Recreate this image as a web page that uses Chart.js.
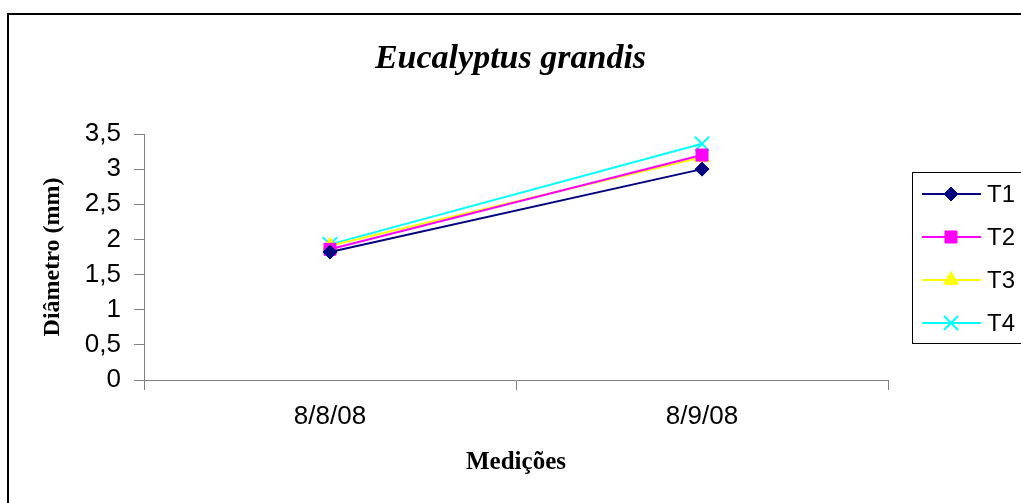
<!DOCTYPE html>
<html lang="pt">
<head>
<meta charset="UTF-8">
<title>Eucalyptus grandis</title>
<script src="https://cdn.jsdelivr.net/npm/chart.js@4.4.1/dist/chart.umd.min.js"></script>
<style>
body {margin:0; background:#fff;}
#wrap {position:relative; width:1021px; height:503px;}
#frame {position:absolute; left:7px; top:13px; right:-10px; bottom:-10px; border-left:2px solid #000; border-top:2px solid #000; pointer-events:none;}
</style>
</head>
<body>
<div id="wrap">
  <canvas id="chartDiametro"></canvas>
  <div id="frame"></div>
</div>

<script>
// dados
var medicoes = ["8/8/08", "8/9/08"];
var t1 = [1.82, 3.00];
var t2 = [1.86, 3.20];
var t3 = [1.91, 3.17];
var t4 = [1.93, 3.36];
var yTicks = [0, 0.5, 1, 1.5, 2, 2.5, 3, 3.5];

var serif = "'Liberation Serif', 'Times New Roman', serif";
var sans = "'Liberation Sans', Arial, sans-serif";

// legenda desenhada a mao (linha + marcador como no Excel)
var legendaExcel = {
  id: 'legendaExcel',
  afterDraw: function(chart) {
    var ctx = chart.ctx;
    ctx.save();
    ctx.strokeStyle = '#000';
    ctx.lineWidth = 1;
    ctx.strokeRect(912.5, 172.5, 130, 171);
    chart.data.datasets.forEach(function(ds, i) {
      var y = 194 + i * 43;
      ctx.strokeStyle = ds.borderColor;
      ctx.lineWidth = 2;
      ctx.beginPath();
      ctx.moveTo(922, y);
      ctx.lineTo(981, y);
      ctx.stroke();
      ctx.fillStyle = ds.pointBackgroundColor;
      ctx.strokeStyle = ds.borderColor;
      ctx.lineWidth = ds.pointBorderWidth;
      Chart.helpers.drawPoint(ctx, {
        pointStyle: ds.pointStyle,
        radius: ds.pointRadius,
        rotation: 0,
        borderWidth: ds.pointBorderWidth
      }, 951, y);
      ctx.fillStyle = '#000';
      ctx.font = '24px ' + sans;
      ctx.textBaseline = 'middle';
      ctx.fillText(ds.label, 987, y + 1);
    });
    ctx.restore();
  }
};

function serie(nome, dados, cor, estilo, raio, borda) {
  return {
    label: nome,
    data: dados,
    borderColor: cor,
    backgroundColor: cor,
    pointBackgroundColor: cor,
    pointBorderColor: cor,
    pointStyle: estilo,
    pointRadius: raio,
    pointHoverRadius: raio,
    pointBorderWidth: borda,
    borderWidth: 2,
    fill: false,
    tension: 0
  };
}

new Chart("chartDiametro", {
  type: "line",
  data: {
    labels: medicoes,
    datasets: [
      serie("T1", t1, "#000080", "rectRot", 7, 1),
      serie("T2", t2, "#FF00FF", "rect", 8.5, 1),
      serie("T3", t3, "#FFFF00", "triangle", 8.5, 1),
      serie("T4", t4, "#00FFFF", "crossRot", 10, 2)
    ]
  },
  options: {
    responsive: true,
    maintainAspectRatio: false,
    animation: false,
    layout: {padding: 0},
    plugins: {
      legend: {display: false},
      tooltip: {enabled: false},
      title: {
        display: true,
        text: "Eucalyptus grandis",
        color: "#000",
        font: {family: serif, size: 34, style: "italic", weight: "bold"},
        padding: {top: 39, bottom: 54.2}
      }
    },
    scales: {
      x: {
        offset: true,
        grid: {display: true, drawOnChartArea: false, drawTicks: true, tickLength: 10, color: "#808080", offset: true},
        border: {display: true, color: "#808080", width: 1},
        ticks: {color: "#000", font: {family: sans, size: 26}, padding: 11},
        title: {display: true, text: "Medições", color: "#000", font: {family: serif, size: 25, weight: "bold"}, padding: {top: 0, bottom: 25}},
        afterFit: function(scale) { scale.height = 123; }
      },
      y: {
        min: 0,
        max: 3.5,
        afterBuildTicks: function(scale) { scale.ticks = yTicks.map(function(v) { return {value: v}; }); },
        grid: {display: true, drawOnChartArea: false, drawTicks: true, tickLength: 10, color: "#808080"},
        border: {display: true, color: "#808080", width: 1},
        ticks: {
          color: "#000",
          font: {family: sans, size: 26},
          padding: 13,
          callback: function(v) { return String(v).replace(".", ","); }
        },
        title: {display: true, text: "Diâmetro (mm)", color: "#000", font: {family: serif, size: 24, weight: "bold"}, padding: {top: 38, bottom: 0}},
        afterFit: function(scale) { scale.width = 144; }
      },
      // eixo vazio a direita so para reservar o espaco da legenda
      espaco: {
        position: "right",
        display: true,
        grid: {display: false},
        border: {display: false},
        ticks: {display: false},
        afterFit: function(scale) { scale.width = 133; }
      }
    }
  },
  plugins: [legendaExcel]
});
</script>
</body>
</html>
